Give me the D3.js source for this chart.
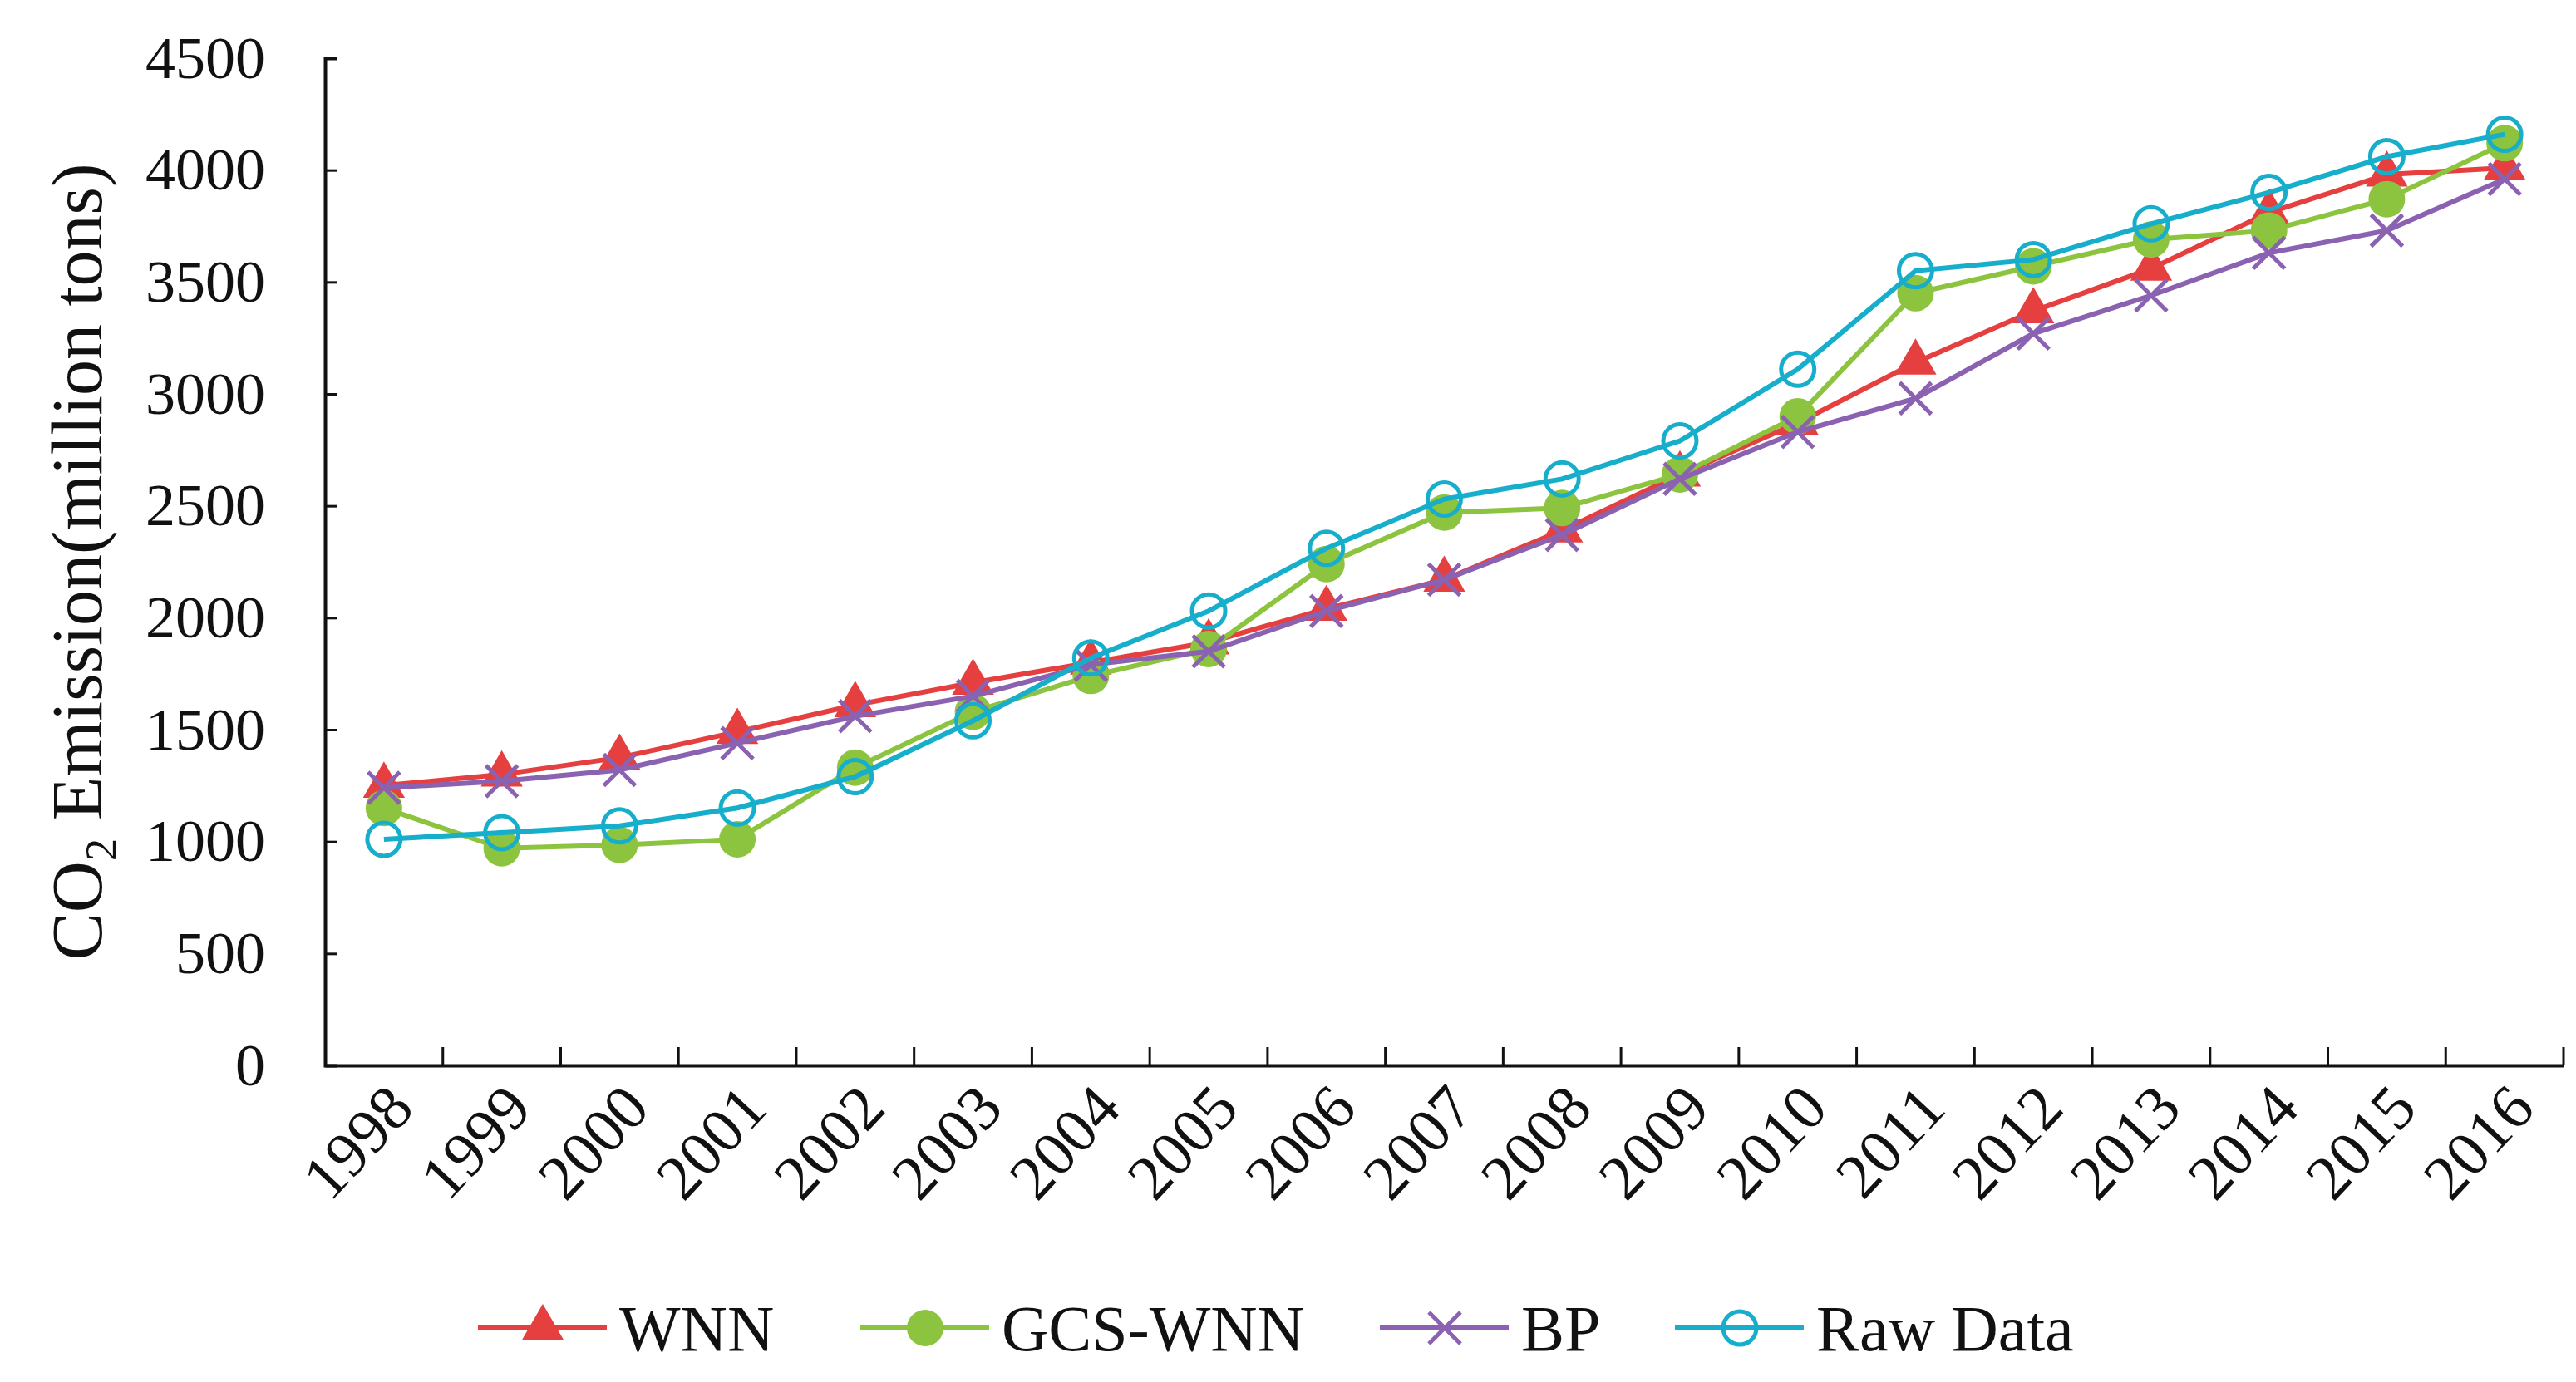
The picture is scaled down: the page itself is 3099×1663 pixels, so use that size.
<!DOCTYPE html>
<html>
<head>
<meta charset="utf-8">
<script src="https://cdn.jsdelivr.net/npm/d3@7"></script>
<style>
  body { margin: 0; background: #fff; }
  svg text { font-family: "Liberation Serif", "Times New Roman", serif; fill: #111; }
</style>
</head>
<body>
<svg id="chart" width="3099" height="1663"></svg>
<script>
const years = ["1998","1999","2000","2001","2002","2003","2004","2005","2006","2007",
               "2008","2009","2010","2011","2012","2013","2014","2015","2016"];
const wnn    = [1250,1300,1375,1490,1610,1710,1800,1890,2040,2170,2390,2640,2870,3140,3370,3560,3810,3980,4010];
const gcsWnn = [1150,970,985,1010,1330,1580,1740,1860,2240,2470,2490,2640,2900,3450,3570,3690,3730,3870,4120];
const bp     = [1240,1270,1320,1440,1560,1650,1790,1850,2030,2170,2370,2620,2830,2980,3270,3440,3630,3730,3960];
const raw    = [1010,1040,1070,1150,1290,1540,1820,2030,2310,2530,2620,2790,3110,3550,3600,3760,3900,4060,4160];
const yTicks = [0,500,1000,1500,2000,2500,3000,3500,4000,4500];

const series = [
    {name: "WNN",      values: wnn,    color: "#e5403f", marker: "triangle"},
    {name: "GCS-WNN",  values: gcsWnn, color: "#8dc43f", marker: "dot"},
    {name: "BP",       values: bp,     color: "#8b62b1", marker: "cross"},
    {name: "Raw Data", values: raw,    color: "#16aecb", marker: "ring"}
];

const svg = d3.select("#chart"),
    margin = {top: 70, right: 15, bottom: 381, left: 391},
    width = +svg.attr("width"),
    height = +svg.attr("height");

const x = d3.scaleBand()
    .domain(years)
    .range([margin.left, width - margin.right]);

const y = d3.scaleLinear()
    .domain([0, 4500])
    .range([height - margin.bottom, margin.top]);

// draw one marker of a given type centred on 0,0
function drawMarker(g, type, color) {
    if (type === "triangle") {
        g.append("path").attr("d", d3.symbol().type(d3.symbolTriangle).size(1100)())
            .attr("fill", color);
    } else if (type === "dot") {
        g.append("circle").attr("r", 22).attr("fill", color);
    } else if (type === "cross") {
        const s = 19;
        g.append("path").attr("d", `M${-s},${-s}L${s},${s}M${-s},${s}L${s},${-s}`)
            .attr("stroke", color).attr("stroke-width", 5).attr("fill", "none");
    } else {
        g.append("circle").attr("r", 20).attr("fill", "none")
            .attr("stroke", color).attr("stroke-width", 5);
    }
}

// axes
const yAxis = svg.append("g")
    .attr("transform", `translate(${margin.left},0)`)
    .call(d3.axisLeft(y).tickValues(yTicks).tickFormat(d3.format("d")).tickSize(-14).tickPadding(72));
yAxis.selectAll("text").attr("font-size", 72).attr("text-anchor", "end");

const xAxis = svg.append("g")
    .attr("transform", `translate(0,${height - margin.bottom})`)
    .call(d3.axisBottom(x).tickSize(0).tickFormat(""));

// boundary ticks between categories
xAxis.selectAll(".bound")
    .data(years)
    .enter().append("line")
    .attr("x1", d => x(d) + x.bandwidth())
    .attr("x2", d => x(d) + x.bandwidth())
    .attr("y1", 0).attr("y2", -22)
    .attr("stroke", "#111").attr("stroke-width", 3);

svg.selectAll("g.tick line").attr("stroke", "#111").attr("stroke-width", 3);
svg.selectAll(".domain").attr("stroke", "#111").attr("stroke-width", 4);

svg.append("g").selectAll("text")
    .data(years)
    .enter().append("text")
    .attr("transform", d => `translate(${x(d) + x.bandwidth() / 2},${height - margin.bottom + 18}) rotate(-47)`)
    .attr("text-anchor", "end")
    .attr("dy", "0.7em")
    .attr("font-size", 76)
    .text(d => d);

// y label
const yl = svg.append("text")
    .attr("transform", `translate(122,${(margin.top + height - margin.bottom) / 2}) rotate(-90)`)
    .attr("text-anchor", "middle")
    .attr("font-size", 86);
yl.append("tspan").text("CO");
yl.append("tspan").text("2").attr("font-size", 55).attr("dy", 18);
yl.append("tspan").text(" Emission(million tons)").attr("dy", -18);

// lines and markers
const line = d3.line()
    .x((d, i) => x(years[i]) + x.bandwidth() / 2)
    .y(d => y(d));

series.forEach(s => {
    const g = svg.append("g");
    g.append("path")
        .datum(s.values)
        .attr("d", line)
        .attr("fill", "none")
        .attr("stroke", s.color)
        .attr("stroke-width", 6);
    g.selectAll("g.m")
        .data(s.values)
        .enter().append("g")
        .attr("transform", (d, i) => `translate(${x(years[i]) + x.bandwidth() / 2},${y(d)})`)
        .each(function() { drawMarker(d3.select(this), s.marker, s.color); });
});

// legend
const legendX = [575, 1035, 1660, 2015];
const legend = svg.append("g");
series.forEach((s, i) => {
    const g = legend.append("g").attr("transform", `translate(${legendX[i]},1598)`);
    g.append("line").attr("x1", 0).attr("x2", 155).attr("y1", 0).attr("y2", 0)
        .attr("stroke", s.color).attr("stroke-width", 6);
    drawMarker(g.append("g").attr("transform", "translate(78,0)"), s.marker, s.color);
    g.append("text").attr("x", 170).attr("y", 0).attr("dy", "0.35em")
        .attr("font-size", 78).text(s.name);
});
</script>
</body>
</html>
